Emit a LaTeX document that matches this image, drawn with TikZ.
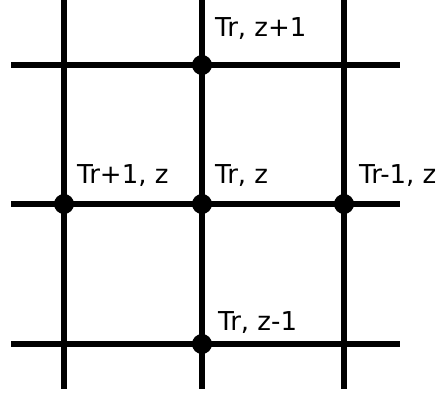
\documentclass[tikz,border=0pt]{standalone}
\usepackage{fontspec}
\setsansfont{DejaVu Sans}
\usetikzlibrary{positioning}
\tikzset{
  gridline/.style={line width=6.5pt},
  site/.style={circle, fill=black, inner sep=0pt, minimum size=20pt},
  sitelabel/.style={font=\sffamily\fontsize{26}{30}\selectfont, inner sep=0pt, anchor=base west}
}
\begin{document}
\begin{tikzpicture}[x=1pt,y=-1pt]
  \useasboundingbox (0,0) rectangle (446,395);
  % grid
  \foreach \x in {64,202,344}
    \draw[gridline] (\x,0) -- (\x,389);
  \foreach \y in {65,204,344}
    \draw[gridline] (11,\y) -- (400,\y);
  % sites
  \node[site] (up) at (202,65) {};
  \node[site] (left) at (64,204) {};
  \node[site] (centre) at (202,204) {};
  \node[site] (right) at (344,204) {};
  \node[site] (down) at (202,344) {};
  % labels
  \node[sitelabel] (uplabel) at (215,37) {Tr, z+1};
  \node[sitelabel] (leftlabel) at (77,184) {Tr+1, z};
  \node[sitelabel] (centrelabel) at (215,184) {Tr, z};
  \node[sitelabel] (rightlabel) at (359,184) {Tr-1, z};
  \node[sitelabel] (downlabel) at (218,330) {Tr, z-1};
\end{tikzpicture}
\end{document}
